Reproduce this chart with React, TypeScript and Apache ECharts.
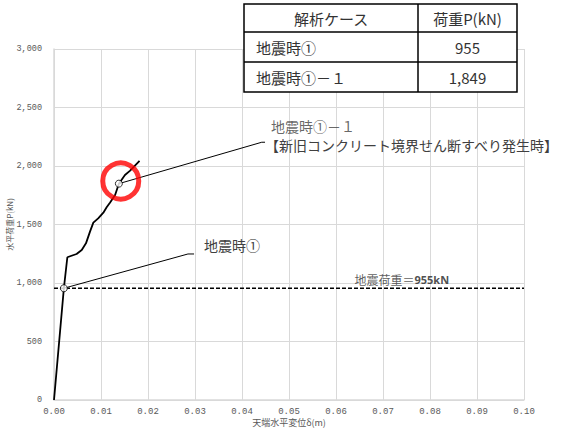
import React, { useEffect, useRef } from "react";
import * as echarts from "echarts";

// Load–displacement curve
const dispX = [0, 0.0021, 0.00284, 0.0048, 0.0059, 0.0068, 0.00766, 0.00837, 0.0094, 0.0105, 0.0112, 0.0119, 0.013, 0.0138, 0.0151, 0.0162, 0.0182];
const loadY = [0, 955, 1220, 1248, 1282, 1339, 1439, 1516, 1553, 1601, 1647, 1686, 1752, 1849, 1923, 1960, 2043];

// Key points
const keyDisp = [0.0021, 0.0138];
const keyLoad = [955, 1849];

// Table
const tableHeader = ["解析ケース", "荷重P(kN)"];
const tableCases = ["地震時①", "地震時①－１"];
const tableLoads = [955, 1849];

// Design load
const designLoad = 955;

// Leader lines (end points in data coords)
const leader1X = [0.0021, 0.0285, 0.0298];
const leader1Y = [955, 1248, 1248];
const leader2X = [0.0138, 0.0442, 0.0449];
const leader2Y = [1849, 2203, 2203];

const xTicks = { min: 0, max: 0.1, interval: 0.01 };
const yTicks = { min: 0, max: 3000, interval: 500 };

const CJK = "'Noto Sans CJK JP', 'Noto Sans', sans-serif";
const MONO = "'Liberation Mono', 'DejaVu Sans Mono', monospace";

export default function App() {
  const ref = useRef<HTMLDivElement>(null);
  useEffect(() => {
    if (!ref.current) return;
    const chart = echarts.init(ref.current, null, { renderer: "svg" });

    const tx = 244, ty = 4, col1 = 174, col2 = 99, rowH = [28, 30, 30];
    const tableGraphics: any[] = [];
    const totalH = rowH.reduce((a, b) => a + b, 0);
    const tFont = `15px ${CJK}`;
    tableGraphics.push({
      type: "rect",
      shape: { x: tx, y: ty, width: col1 + col2, height: totalH },
      style: { fill: "#fff", stroke: "#000", lineWidth: 1.5 },
      z: 100,
    });
    let yy = ty;
    rowH.forEach((h, i) => {
      if (i > 0) {
        tableGraphics.push({
          type: "line",
          shape: { x1: tx, y1: yy, x2: tx + col1 + col2, y2: yy },
          style: { stroke: "#000", lineWidth: 1.5 },
          z: 101,
        });
      }
      const cy = yy + h / 2;
      if (i === 0) {
        tableGraphics.push({
          type: "text", x: tx + col1 / 2, y: cy, z: 102,
          style: { text: tableHeader[0], fill: "#333", font: tFont, align: "center", verticalAlign: "middle" },
        });
        tableGraphics.push({
          type: "text", x: tx + col1 + col2 / 2, y: cy, z: 102,
          style: { text: tableHeader[1], fill: "#333", font: tFont, align: "center", verticalAlign: "middle" },
        });
      } else {
        tableGraphics.push({
          type: "text", x: tx + 12, y: cy, z: 102,
          style: { text: tableCases[i - 1], fill: "#333", font: tFont, align: "left", verticalAlign: "middle" },
        });
        tableGraphics.push({
          type: "text", x: tx + col1 + col2 / 2, y: cy, z: 102,
          style: { text: tableLoads[i - 1].toLocaleString("en-US"), fill: "#333", font: tFont, align: "center", verticalAlign: "middle" },
        });
      }
      yy += h;
    });
    tableGraphics.push({
      type: "line",
      shape: { x1: tx + col1, y1: ty, x2: tx + col1, y2: ty + totalH },
      style: { stroke: "#000", lineWidth: 1.5 },
      z: 101,
    });

    const option: any = {
      animation: false,
      backgroundColor: "#fff",
      grid: { left: 54, right: 41, top: 49, bottom: 31, containLabel: false, outerBoundsMode: "none" },
      xAxis: {
        type: "value",
        min: xTicks.min, max: xTicks.max, interval: xTicks.interval,
        name: "天端水平変位δ(m)",
        nameLocation: "middle",
        nameGap: 18,
        nameMoveOverlap: false,
        nameTextStyle: { fontFamily: "'Noto Sans CJK JP', serif", fontSize: 9, color: "#595959" },
        axisLine: { lineStyle: { color: "#d9d9d9", width: 1.5 } },
        axisTick: { show: false },
        splitLine: { lineStyle: { color: "#d9d9d9", width: 1 } },
        axisLabel: { formatter: (v: number) => v.toFixed(2), fontFamily: MONO, fontSize: 9, color: "#595959", margin: 7 },
      },
      yAxis: {
        type: "value",
        min: yTicks.min, max: yTicks.max, interval: yTicks.interval,
        name: "水平荷重P(kN)",
        nameLocation: "middle",
        nameGap: 41,
        nameMoveOverlap: false,
        nameTextStyle: { fontFamily: "'Noto Sans CJK JP', serif", fontSize: 8, color: "#595959" },
        axisLine: { show: true, lineStyle: { color: "#d9d9d9", width: 1.5 } },
        axisTick: { show: false },
        splitLine: { lineStyle: { color: "#d9d9d9", width: 1 } },
        axisLabel: { formatter: (v: number) => v.toLocaleString("en-US"), fontFamily: MONO, fontSize: 8.5, color: "#595959", margin: 12 },
      },
      series: [
        {
          type: "line",
          data: [[xTicks.min, designLoad], [xTicks.max, designLoad]],
          symbol: "none",
          lineStyle: { color: "#000", width: 1.5, type: [4, 2] },
          z: 2,
        },
        {
          type: "scatter",
          data: [[0.074, designLoad]],
          symbolSize: 0,
          label: {
            show: true,
            position: "top",
            distance: 3,
            formatter: "{a|地震荷重＝}{b|" + designLoad + "kN}",
            rich: {
              a: { fontFamily: CJK, fontSize: 12, color: "#333" },
              b: { fontFamily: "'Noto Sans', sans-serif", fontSize: 11, fontWeight: "bold", color: "#222" },
            },
          },
          z: 3,
        },
        {
          type: "line",
          data: dispX.map((x, i) => [x, loadY[i]]),
          symbol: "none",
          lineStyle: { color: "#000", width: 1.8 },
          z: 4,
        },
        {
          type: "line",
          data: leader1X.map((x, i) => [x, leader1Y[i]]),
          symbol: "none",
          lineStyle: { color: "#000", width: 1 },
          endLabel: {
            show: true,
            formatter: "地震時①",
            fontFamily: CJK, fontSize: 14, color: "#404040",
            distance: 10,
            offset: [0, -9],
          },
          z: 3,
        },
        {
          type: "line",
          data: leader2X.map((x, i) => [x, leader2Y[i]]),
          symbol: "none",
          lineStyle: { color: "#000", width: 1 },
          endLabel: {
            show: true,
            formatter: "【新旧コンクリート境界せん断すべり発生時】",
            fontFamily: CJK, fontSize: 14, color: "#404040", lineHeight: 15,
            distance: 0,
            offset: [0, 2.5],
          },
          z: 3,
        },
        {
          type: "scatter",
          data: [[leader2X[leader2X.length - 1], leader2Y[leader2Y.length - 1]]],
          symbolSize: 0,
          label: {
            show: true,
            position: "right",
            formatter: "地震時①－１",
            fontFamily: CJK, fontSize: 14, color: "#404040", lineHeight: 15,
            distance: 6,
            offset: [0, -16],
          },
          z: 3,
        },
        {
          type: "scatter",
          data: keyDisp.map((x, i) => [x, keyLoad[i]]),
          symbol: "circle",
          symbolSize: 7,
          itemStyle: { color: "#fff", borderColor: "#000", borderWidth: 1 },
          z: 6,
        },
        {
          type: "scatter",
          data: [[0.0142, 1872]],
          symbol: "circle",
          symbolSize: 36,
          itemStyle: { color: "transparent", borderColor: "#ff0000", borderWidth: 5 },
          z: 7,
          silent: true,
        },
      ],
      graphic: tableGraphics,
    };
    chart.setOption(option);
    return () => chart.dispose();
  }, []);
  return (
    <div
      ref={ref}
      style={{ position: "fixed", left: 0, top: 0, width: 565, height: 431, background: "#fff" }}
    />
  );
}
